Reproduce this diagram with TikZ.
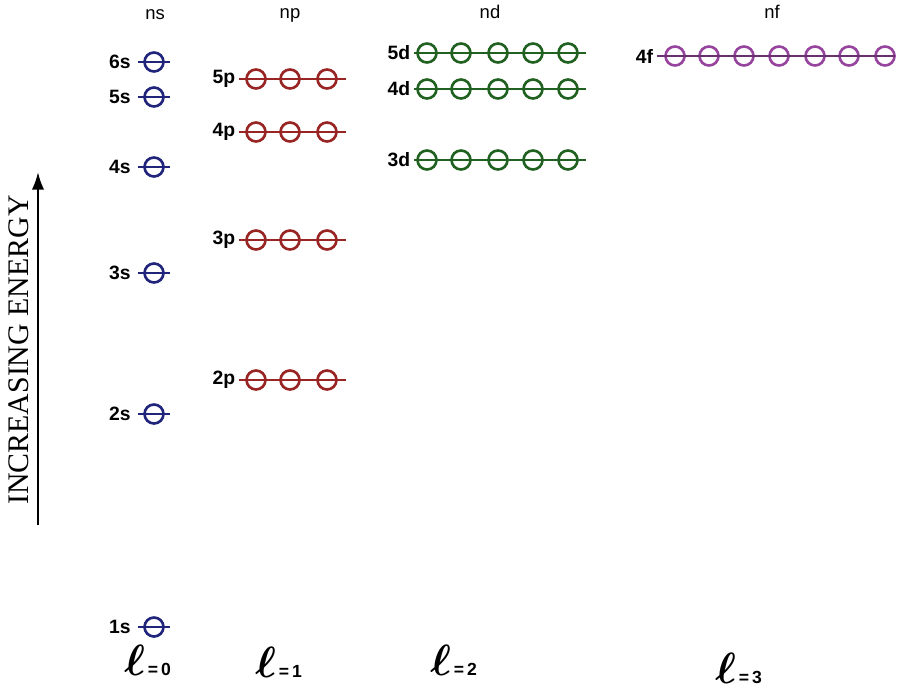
\documentclass[tikz,border=0pt]{standalone}
\usepackage{amsmath}
\usepackage{fontspec}
\setsansfont{Liberation Sans}
\newfontfamily\energyfont{Liberation Serif}
\usetikzlibrary{arrows.meta, positioning}

\definecolor{sblue}{RGB}{32,36,122}
\definecolor{pred}{RGB}{152,36,36}
\definecolor{dgreen}{RGB}{32,96,32}
\definecolor{fpurple}{RGB}{150,68,158}

\newcommand{\lval}[1]{{\fontsize{24}{26}\selectfont$\boldsymbol{\ell}$}\,=\,#1}

\begin{document}
\begin{tikzpicture}[
    x=0.02cm, y=-0.02cm,
    orb/.style={circle, draw=#1, line width=1.5pt, minimum size=0.38cm, inner sep=0pt},
    lvl/.style={draw=#1, line width=1pt},
    lab/.style={font=\sffamily\bfseries\fontsize{11}{13}\selectfont, anchor=east, inner sep=1pt},
    head/.style={font=\sffamily\fontsize{10.5}{12}\selectfont},
    lnum/.style={font=\sffamily\bfseries\fontsize{10}{12}\selectfont, anchor=south west, inner sep=0pt},
    arrow/.style={-{Latex[length=10pt, width=7pt]}, line width=1.3pt}
]
    \useasboundingbox (0,0) rectangle (905,690);

    \node[head] (ns) at (155,15) {ns};
    \node[head] (np) at (290,15) {np};
    \node[head] (nd) at (490,12) {nd};
    \node[head] (nf) at (772,12) {nf};

    \foreach \n/\y in {6s/62, 5s/97, 4s/167, 3s/273, 2s/414, 1s/627} {
        \coordinate (\n-l) at (138,\y);
        \coordinate (\n-r) at (170,\y);
        \node[lab, left=3pt of \n-l] (\n-t) {\n};
        \node[orb=sblue] (\n-1) at (154,\y) {};
        \draw[lvl=sblue] (\n-l) -- (\n-r);
    }

    \foreach \n/\y in {5p/79, 4p/132, 3p/240, 2p/380} {
        \coordinate (\n-l) at (239,\y);
        \coordinate (\n-r) at (346,\y);
        \node[lab, left=1pt of \n-l] (\n-t) {\n};
        \foreach \i/\x in {1/256, 2/290, 3/327}
            \node[orb=pred] (\n-\i) at (\x,\y) {};
        \draw[lvl=pred] (\n-l) -- (\n-r);
    }

    \foreach \n/\y in {5d/53, 4d/89, 3d/160} {
        \coordinate (\n-l) at (414,\y);
        \coordinate (\n-r) at (586,\y);
        \node[lab, left=1pt of \n-l] (\n-t) {\n};
        \foreach \i/\x in {1/427, 2/461, 3/498, 4/533, 5/568}
            \node[orb=dgreen] (\n-\i) at (\x,\y) {};
        \draw[lvl=dgreen] (\n-l) -- (\n-r);
    }

    \coordinate (4f-l) at (657,56);
    \coordinate (4f-r) at (895,56);
    \node[lab, left=1pt of 4f-l] (4f-t) {4f};
    \foreach \i/\x in {1/675, 2/709, 3/744, 4/779, 5/815, 6/849, 7/885}
        \node[orb=fpurple] (4f-\i) at (\x,56) {};
    \draw[lvl=fpurple!70!black] (4f-l) -- (4f-r);

    \coordinate (e-lo) at (38,525);
    \coordinate (e-hi) at (38,172);
    \draw[arrow] (e-lo) -- (e-hi);
    \node[rotate=90, font=\energyfont\fontsize{17}{20}\selectfont] (energy) at (19,350) {INCREASING ENERGY};

    \node[lnum] (ell0) at (124,676) {\lval{0}};
    \node[lnum] (ell1) at (255,678) {\lval{1}};
    \node[lnum] (ell2) at (430,676) {\lval{2}};
    \node[lnum] (ell3) at (715,684) {\lval{3}};
\end{tikzpicture}
\end{document}
